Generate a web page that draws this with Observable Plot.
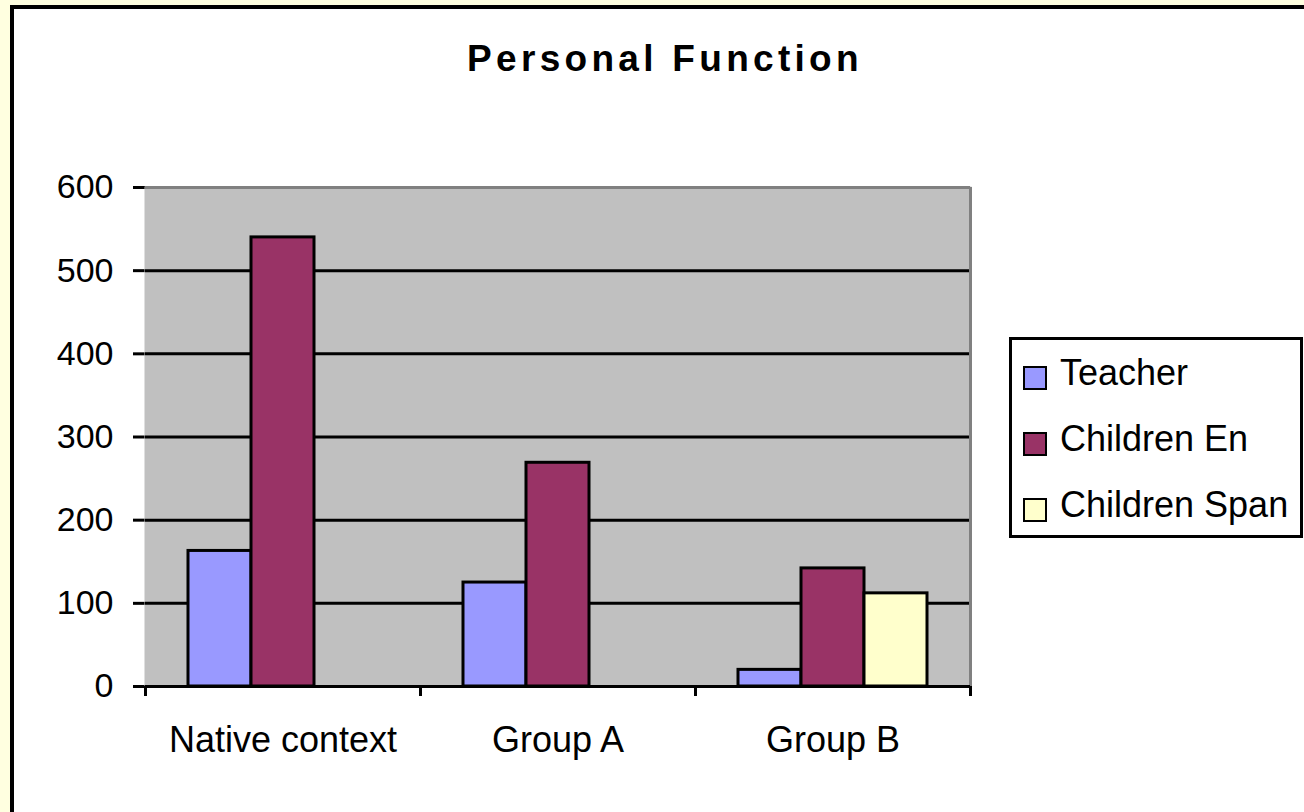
<!DOCTYPE html>
<html><head><meta charset="utf-8">
<script src="https://cdn.jsdelivr.net/npm/d3@7"></script>
<script src="https://cdn.jsdelivr.net/npm/@observablehq/plot@0.6"></script>
<style>
html,body{margin:0;padding:0;background:#ffffe0;overflow:hidden;width:1304px;height:812px;font-family:"Liberation Sans",Arial,sans-serif;}
#box{position:absolute;left:10px;top:5px;width:1400px;height:900px;background:#fff;border:4px solid #000;box-sizing:border-box;}
#chart{position:absolute;left:0;top:0;}
#title{position:absolute;left:665px;top:40px;transform:translateX(-50%);font-weight:bold;font-size:37px;line-height:37px;letter-spacing:4.3px;white-space:nowrap;color:#000;}
#legend{position:absolute;left:1009px;top:337px;width:294px;height:201px;box-sizing:border-box;border:3px solid #000;background:#fff;}
#legend .row{display:flex;align-items:center;height:66px;padding-left:11px;}
#legend .sw{width:20px;height:20px;border:2px solid #000;margin-top:10px;margin-right:13px;flex:none;}
#legend .lab{font-size:36px;line-height:40px;white-space:nowrap;}
#chart svg [aria-label^="y-axis"] line,#chart svg [aria-label^="y-axis"] path{stroke-width:3px;stroke:#000;}
#chart svg [aria-label^="fx-axis"] text{font-size:36px;}
</style></head><body>
<div id="box"></div>
<div id="chart"></div>
<div id="title">Personal Function</div>
<div id="legend"></div>
<script>
const categories = ["Native context", "Group A", "Group B"];
const series = ["Teacher", "Children En", "Children Span"];
const colors = ["#9999ff", "#993366", "#ffffcc"];
const teacher = [163, 125, 20];
const childrenEn = [540, 269, 142];
const childrenSpan = [null, null, 112];
const yTicks = [0, 100, 200, 300, 400, 500, 600];
const gridTicks = [100, 200, 300, 400, 500];
const yMax = 600;

const values = [teacher, childrenEn, childrenSpan];
const rows = [];
categories.forEach((c, i) => series.forEach((s, j) => {
  const v = values[j][i];
  if (v != null) rows.push({category: c, series: s, value: v});
}));

const W = 1304, H = 812;
const mL = 145, mR = 334, mT = 187, mB = 126;
const po = 0.6825;
const facetW = (W - mL - mR) / categories.length;
const step = facetW / (series.length + 2 * po);
const edge = (po + 0.5) * step;

const plot = Plot.plot({
  width: W, height: H,
  marginLeft: mL, marginRight: mR, marginTop: mT, marginBottom: mB,
  style: {background: "transparent", fontFamily: "'Liberation Sans', Arial, sans-serif", fontSize: "34px", color: "#000", overflow: "visible"},
  fx: {domain: categories, padding: 0, axis: "bottom", label: null, tickSize: 0, tickPadding: 40},
  x: {domain: series, paddingInner: 0, paddingOuter: po, round: false, axis: null},
  y: {domain: [0, yMax], ticks: yTicks, tickSize: 12, tickPadding: 20, line: true, label: null, tickFormat: d => String(d)},
  color: {domain: series, range: colors},
  marks: [
    Plot.frame({fill: "#c0c0c0", stroke: "#c0c0c0", strokeWidth: 2}),
    Plot.ruleY(gridTicks, {stroke: "#000", strokeWidth: 3}),
    Plot.ruleY([yMax], {stroke: "#808080", strokeWidth: 3}),
    Plot.ruleX([{c: categories[categories.length - 1], s: series[series.length - 1]}], {fx: "c", x: "s", y1: 0, y2: yMax, dx: edge, stroke: "#808080", strokeWidth: 3}),
    Plot.barY(rows, {fx: "category", x: "series", y: "value", fill: "series", stroke: "#000", strokeWidth: 3}),
    Plot.ruleY([0], {stroke: "#000", strokeWidth: 3}),
    Plot.ruleX([series[0]], {x: d => d, y1: 0, y2: 0, insetBottom: -10, dx: -edge, stroke: "#000", strokeWidth: 3}),
    Plot.ruleX([series[series.length - 1]], {x: d => d, y1: 0, y2: 0, insetBottom: -10, dx: edge, stroke: "#000", strokeWidth: 3})
  ]
});
document.getElementById("chart").append(plot);

const legend = d3.select("#legend");
series.forEach((s, i) => {
  const row = legend.append("div").attr("class", "row");
  row.append("div").attr("class", "sw").style("background", colors[i]);
  row.append("div").attr("class", "lab").text(s);
});
</script>
</body></html>
